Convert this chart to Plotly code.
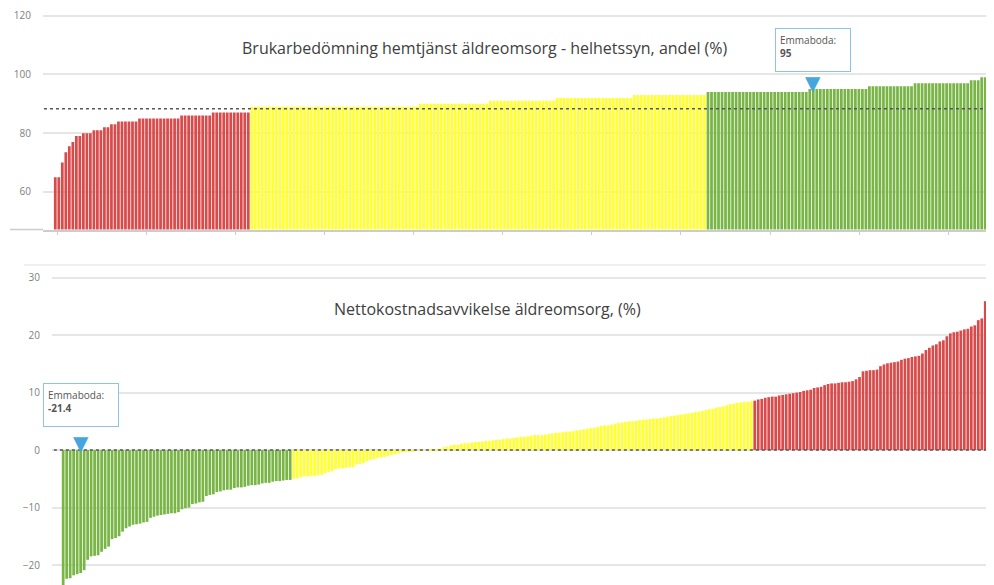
import plotly.graph_objects as go

# ---------------- data ----------------
TOP_TITLE = "Brukarbedömning hemtjänst äldreomsorg - helhetssyn, andel (%)"
BOTTOM_TITLE = "Nettokostnadsavvikelse äldreomsorg, (%)"
HIGHLIGHT_NAME = "Emmaboda"

top_red = [65, 65, 70, 73.5, 75.5, 77, 79, 79, 80, 80, 80, 81, 81, 81, 82, 82, 83, 83,
           84, 84, 84, 84, 84, 84,
           85, 85, 85, 85, 85, 85, 85, 85, 85, 85, 85, 85,
           86, 86, 86, 86, 86, 86, 86, 86, 86,
           87, 87, 87, 87, 87, 87, 87, 87, 87, 87, 87]
top_yellow = [89, 89, 89, 89, 89, 89, 89, 89, 89, 89, 89, 89,
              89, 89, 89, 89, 89, 89, 89, 89, 89, 89, 89, 89,
              89, 89, 89, 89, 89, 89, 89, 89, 89, 89, 89, 89,
              89, 89, 89, 89, 89, 89, 89, 89, 89, 89, 89, 89,
              90, 90, 90, 90, 90, 90, 90, 90, 90, 90,
              90, 90, 90, 90, 90, 90, 90, 90, 90, 90,
              91, 91, 91, 91, 91, 91, 91, 91, 91, 91,
              91, 91, 91, 91, 91, 91, 91, 91, 91,
              92, 92, 92, 92, 92, 92, 92, 92, 92, 92, 92,
              92, 92, 92, 92, 92, 92, 92, 92, 92, 92, 92,
              93, 93, 93, 93, 93, 93, 93, 93, 93, 93, 93,
              93, 93, 93, 93, 93, 93, 93, 93, 93, 93]
top_green = [94, 94, 94, 94, 94, 94, 94, 94, 94, 94, 94, 94, 94, 94, 94,
             94, 94, 94, 94, 94, 94, 94, 94, 94, 94, 94, 94, 94, 94,
             95, 95, 95, 95, 95, 95, 95, 95, 95, 95, 95, 95, 95, 95, 95, 95, 95,
             96, 96, 96, 96, 96, 96, 96, 96, 96, 96, 96, 96, 96,
             97, 97, 97, 97, 97, 97, 97, 97, 97, 97, 97, 97, 97, 97, 97, 97,
             98, 98, 98, 99, 99, 99, 100]
top_average = 88.3
top_highlight_rank = 216
top_highlight_value = 95
top_yticks = [60, 80, 100, 120]

bottom_green = [-25.0, -22.4, -22.3, -21.8, -21.6, -21.4, -20.9, -19.1, -18.5, -18.4, -18.3,
                -17.7, -17.2, -16.8, -15.5, -15.3, -15.0, -14.2, -13.6, -13.3, -13.0, -12.9,
                -12.8, -12.6, -12.5, -11.8, -11.6, -11.4, -11.3, -11.2, -11.1, -11.0, -11.0,
                -10.8, -10.3, -10.1, -10.0, -9.4, -9.3, -9.1, -9.0, -8.0, -7.8, -7.7, -7.3,
                -7.2, -7.0, -6.9, -6.9, -6.6, -6.5, -6.5, -6.4, -6.2, -6.1, -6.1, -6.0,
                -5.8, -5.7, -5.7, -5.5, -5.4, -5.4, -5.3, -5.2, -5.2]
bottom_yellow = [-5.0, -4.9, -4.7, -4.6, -4.6, -4.5, -4.5, -4.4, -4.3, -4.0, -3.8, -3.7,
                 -3.3, -3.2, -3.2, -3.1, -3.0, -3.0, -2.5, -2.4, -2.3, -1.9, -1.7, -1.6,
                 -1.4, -1.3, -1.2, -1.0, -0.9, -0.7, -0.6, -0.4, -0.3, -0.2, -0.2, -0.1,
                 -0.1, -0.1, 0.0, 0.1, 0.1, 0.1, 0.2, 0.5, 0.6, 0.8, 0.9, 0.9, 1.1, 1.2,
                 1.2, 1.3, 1.4, 1.4, 1.5, 1.6, 1.6, 1.7, 1.8, 1.8, 1.9, 2.0, 2.0, 2.1,
                 2.2, 2.3, 2.3, 2.4, 2.5, 2.6, 2.6, 2.6, 2.7, 2.8, 2.9, 3.0, 3.0, 3.1,
                 3.2, 3.2, 3.3, 3.4, 3.5, 3.6, 3.7, 3.8, 3.9, 4.0, 4.2, 4.3, 4.3, 4.4,
                 4.6, 4.7, 4.8, 4.9, 5.0, 5.0, 5.1, 5.2, 5.3, 5.3, 5.4, 5.5, 5.5, 5.6,
                 5.7, 5.8, 5.9, 6.0, 6.1, 6.2, 6.3, 6.4, 6.5, 6.6, 6.7, 6.8, 7.0, 7.1,
                 7.2, 7.4, 7.5, 7.6, 7.8, 8.0, 8.1, 8.2, 8.3, 8.4, 8.4, 8.5]
bottom_red = [8.6, 8.8, 8.9, 9.1, 9.2, 9.3, 9.3, 9.5, 9.6, 9.7, 9.8, 9.9, 10.0, 10.1,
              10.3, 10.4, 10.5, 10.8, 10.9, 11.0, 11.3, 11.5, 11.6, 11.6, 11.7, 11.8,
              11.8, 11.9, 12.0, 12.3, 12.7, 13.7, 13.8, 13.9, 13.9, 14.0, 14.6, 14.9,
              15.1, 15.2, 15.3, 15.4, 15.7, 15.9, 16.0, 16.2, 16.3, 16.4, 16.8, 17.4,
              17.8, 18.2, 18.4, 18.9, 19.1, 19.8, 20.3, 20.5, 20.6, 20.8, 21.0, 21.1,
              21.5, 21.7, 22.6, 22.9, 25.9, 26.2, 26.4]
bottom_reference = 0
bottom_highlight_rank = 5
bottom_highlight_value = -21.4
bottom_yticks = [-20, -10, 0, 10, 20, 30]

# ---------------- style ----------------
RED = "#d94a4a"
YELLOW = "#ffff33"
GREEN = "#78b446"
GRID = "#e6e6e6"
TICKFONT = dict(family="Open Sans", size=10, color="#808080")
TITLEFONT = dict(family="Open Sans", size=16, color="#404040")
CALLOUT_BORDER = "#8cc3e6"
ARROW = "#45a6de"

# the page body has an 8px margin, so the figure is drawn 8px in from the corner
OFF = 8
W, H = 994 - OFF, 585 - OFF


def px(v):
    return (v - OFF) / W


def py(v):
    return 1 - (v - OFF) / H


fig = go.Figure()


def add_group(values, start, color, xa, ya):
    fig.add_trace(go.Bar(
        x=list(range(start, start + len(values))), y=values,
        marker=dict(color=color, line=dict(width=0)),
        xaxis=xa, yaxis=ya, hoverinfo="skip", showlegend=False))
    return start + len(values)


s = 0
for vals, col in [(top_red, RED), (top_yellow, YELLOW), (top_green, GREEN)]:
    s = add_group(vals, s, col, "x", "y")
n_top = s

s = 0
for vals, col in [(bottom_green, GREEN), (bottom_yellow, YELLOW), (bottom_red, RED)]:
    s = add_group(vals, s, col, "x2", "y2")
n_bot = s

fig.update_layout(
    width=W, height=H,
    margin=dict(l=0, r=0, t=0, b=0),
    paper_bgcolor="white", plot_bgcolor="white",
    bargap=0.22, barmode="overlay",
    xaxis=dict(domain=[px(43), 1], range=[-3.5, n_top - 0.5],
               showgrid=False, zeroline=False, showticklabels=False,
               ticks="outside", ticklen=4, tickcolor="#cccccc",
               tick0=0.5, dtick=25.4,
               showline=True, linecolor="#cccccc", linewidth=1.5, anchor="y"),
    yaxis=dict(domain=[py(229.5), 1], range=[47.2, 122.6],
               tickvals=top_yticks, showgrid=True, gridcolor=GRID, gridwidth=1.5,
               zeroline=False, tickfont=TICKFONT, ticks="", ticklabelstandoff=11,
               anchor="x"),
    xaxis2=dict(domain=[px(52), 1], range=[-3.2, n_bot - 0.5],
                showgrid=False, zeroline=False, showticklabels=False,
                showline=False, anchor="y2"),
    yaxis2=dict(domain=[0, py(265)], range=[-23.48, 32.2],
                tickvals=bottom_yticks, showgrid=True, gridcolor=GRID, gridwidth=1.5,
                zeroline=False, tickfont=TICKFONT, ticks="", ticklabelstandoff=11,
                anchor="x2"),
)

# reference / average dashed lines
fig.add_shape(type="line", xref="x domain", yref="y", x0=0.001, x1=1,
              y0=top_average, y1=top_average, layer="above",
              line=dict(color="#555555", width=1.5, dash="3px,3px"))
fig.add_shape(type="line", xref="x2 domain", yref="y2", x0=0.002, x1=1,
              y0=bottom_reference, y1=bottom_reference, layer="above",
              line=dict(color="#555555", width=1.5, dash="3px,3px"))

# baseline extension of top chart and separator of bottom chart
fig.add_shape(type="line", xref="paper", yref="paper", x0=px(10), x1=px(43),
              y0=py(229.5), y1=py(229.5), line=dict(color="#cccccc", width=1.5))
fig.add_shape(type="line", xref="paper", yref="paper", x0=px(24), x1=1,
              y0=py(265), y1=py(265), line=dict(color="#f0f0f0", width=2))

# titles
fig.add_annotation(text=TOP_TITLE, xref="paper", yref="paper", x=px(485), y=py(48),
                   showarrow=False, font=TITLEFONT, xanchor="center", yanchor="middle")
fig.add_annotation(text=BOTTOM_TITLE, xref="paper", yref="paper", x=px(487), y=py(309),
                   showarrow=False, font=TITLEFONT, xanchor="center", yanchor="middle")


# callouts
def callout(xa, ya, rank, anchor_y, value, box_shift, tip_shift):
    fig.add_annotation(
        xref=xa, yref=ya, x=rank, y=anchor_y,
        text=f"{HIGHLIGHT_NAME}:<br><b>{value}</b>", showarrow=False,
        xanchor="center", yanchor="bottom", yshift=box_shift,
        align="left", valign="top", width=66, height=34, borderpad=4,
        bgcolor="white", bordercolor=CALLOUT_BORDER, borderwidth=1,
        font=dict(family="Open Sans", size=10, color="#555555"))
    fig.add_annotation(
        xref=xa, yref=ya, x=rank, y=anchor_y, text="▼", showarrow=False,
        xanchor="center", yanchor="bottom", yshift=tip_shift,
        font=dict(family="DejaVu Sans", size=20, color=ARROW))


callout("x", "y", top_highlight_rank, top_highlight_value, top_highlight_value, 17, -8)
callout("x2", "y2", bottom_highlight_rank, max(0, bottom_highlight_value),
        bottom_highlight_value, 23, -7)

fig.write_html("out.html")
